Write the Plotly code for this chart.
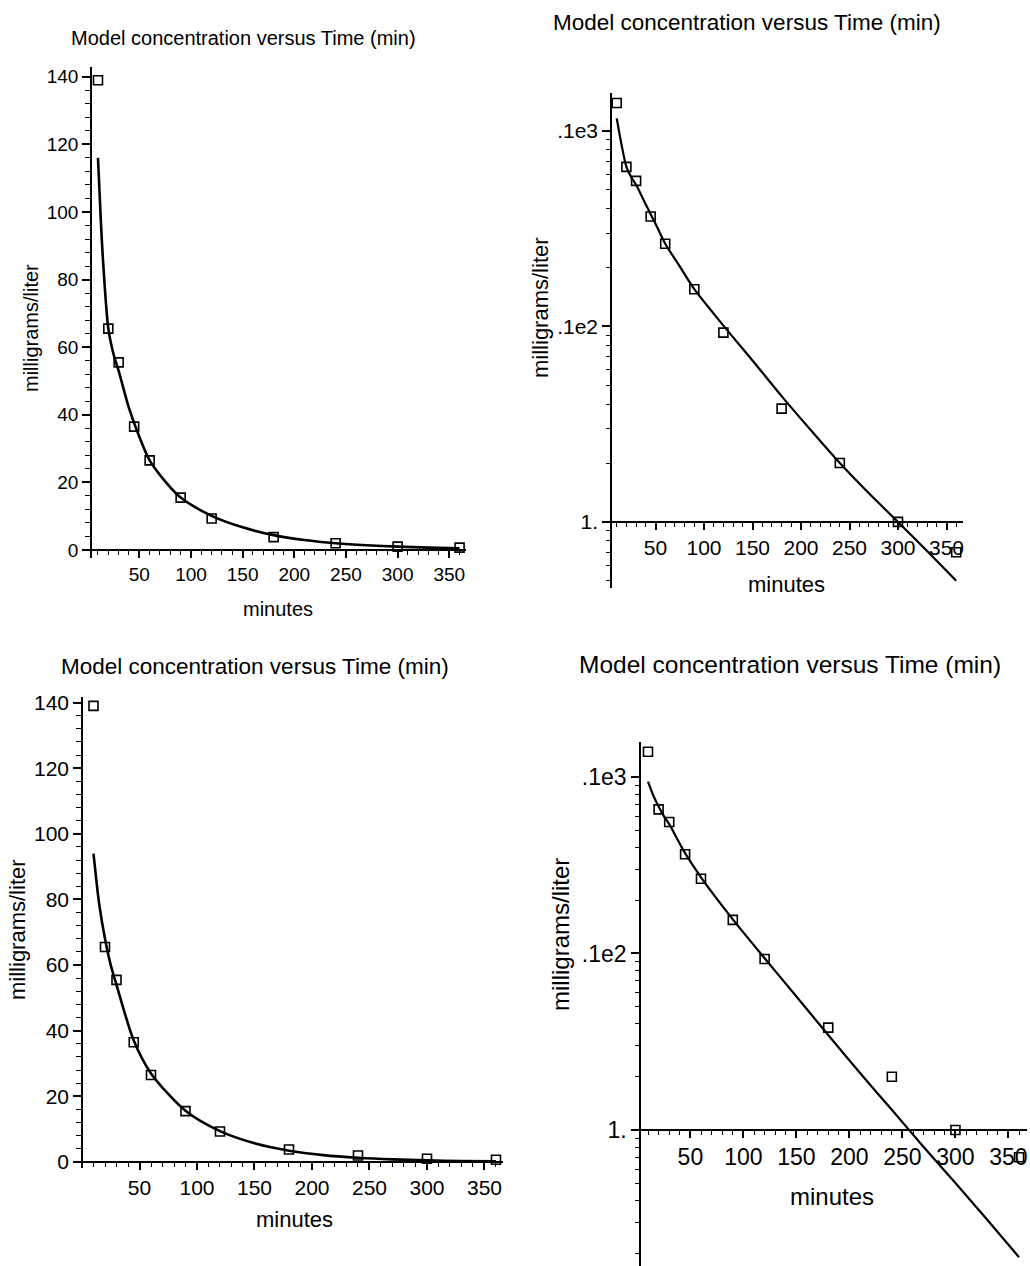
import plotly.graph_objects as go

W, H = 1030, 1266

# ---------------- data ----------------
time_min = [10, 20, 30, 45, 60, 90, 120, 180, 240, 300, 360]
conc_mg_l = [139, 65.5, 55.5, 36.5, 26.5, 15.5, 9.3, 3.8, 2.0, 1.0, 0.7]

# fitted model curve shown in the top row
model_top_t = [10, 12.5, 15, 20, 25, 30, 40, 50, 60, 75, 90, 120, 150, 180, 210, 240, 270, 300, 330, 360]
model_top_c = [116, 99, 85, 65.5, 58, 53, 42, 33.5, 26.5, 20.3, 15.5, 10.1, 6.7, 4.4, 2.95, 2.0, 1.4, 1.0, 0.71, 0.5]

# fitted model curve shown in the bottom row
model_bot_t = [10, 15, 20, 25, 30, 45, 60, 90, 120, 150, 180, 210, 240, 270, 300, 330, 360]
model_bot_c = [94, 78.5, 68, 60, 54, 37, 27, 15.6, 9.4, 5.7, 3.45, 2.1, 1.3, 0.8, 0.5, 0.31, 0.19]

title_text = "Model concentration versus Time (min)"
x_label = "minutes"
y_label = "milligrams/liter"
x_tick_step = 50
lin_y_tick_step = 20
log_y_tick_vals = [1, 10, 100]
log_y_tick_text = ["1.", ".1e2", ".1e3"]

FONT = "Liberation Sans, Arial, sans-serif"
TICKC = "black"


def fx(px):
    return px / W


def fy(py):
    return 1 - py / H


panels = [
    dict(model_t=model_top_t, model_c=model_top_c, log=False,
         xr=[4.2, 366.2], xpx=[92, 466], yr=[-2.37, 142.9], ypx=[67, 558], xaxis_py=550,
         tick=19, tsize=20, lsize=20, lw=2.6,
         title=(243.5, 38), xl=(278, 609), yl=(31, 328)),
    dict(model_t=model_top_t, model_c=model_top_c, log=True,
         xr=[5.15, 367], xpx=[612, 963], yr=[-0.338, 2.194], ypx=[93, 588], xaxis_py=522,
         tick=21, tsize=22.5, lsize=22, lw=2.2,
         title=(746.5, 23), xl=(786, 584), yl=(540, 308)),
    dict(model_t=model_bot_t, model_c=model_bot_c, log=False,
         xr=[0.87, 366.1], xpx=[83, 503], yr=[-1.83, 141.7], ypx=[697, 1168], xaxis_py=1162,
         tick=21, tsize=22.5, lsize=22, lw=2.6,
         title=(254.5, 666), xl=(294, 1219), yl=(17, 930)),
    dict(model_t=model_bot_t, model_c=model_bot_c, log=True,
         xr=[3.4, 367.5], xpx=[641, 1027], yr=[-0.771, 2.198], ypx=[742, 1266], xaxis_py=1130,
         tick=23, tsize=24.5, lsize=24, lw=2.2,
         title=(789.5, 664), xl=(832, 1196), yl=(561, 935)),
]

fig = go.Figure()
layout = dict(
    width=W, height=H, autosize=False,
    margin=dict(l=0, r=0, t=0, b=0),
    paper_bgcolor="white", plot_bgcolor="rgba(0,0,0,0)",
    showlegend=False, template="none",
    font=dict(family=FONT, color="black"),
)
annotations = []

log_minor = [m * d for d in (0.1, 1, 10, 100) for m in range(2, 10)]
extra_axis = 5

for i, p in enumerate(panels, start=1):
    sx = "" if i == 1 else str(i)
    xname, yname = "x" + sx, "y" + sx

    fig.add_trace(go.Scatter(
        x=p["model_t"], y=p["model_c"], mode="lines",
        line=dict(color="black", width=p["lw"], shape="spline", smoothing=0.8),
        xaxis=xname, yaxis=yname, hoverinfo="skip"))
    fig.add_trace(go.Scatter(
        x=time_min, y=conc_mg_l, mode="markers",
        marker=dict(symbol="square-open", size=9, color="black", line=dict(width=1.6, color="black")),
        xaxis=xname, yaxis=yname, cliponaxis=False))

    xaxis = dict(
        domain=[fx(p["xpx"][0]), fx(p["xpx"][1])],
        range=p["xr"], anchor="free", position=fy(p["xaxis_py"]),
        showline=True, linecolor="black", linewidth=1.6,
        showgrid=False, zeroline=False,
        tickmode="linear", tick0=0, dtick=x_tick_step,
        ticks="outside", ticklen=7, tickwidth=1.6, tickcolor=TICKC,
        tickfont=dict(family=FONT, size=p["tick"], color="black"),
        minor=dict(dtick=10, tick0=0, ticks="outside", ticklen=4, tickwidth=1.4,
                   tickcolor=TICKC, showgrid=False),
    )
    yaxis = dict(
        domain=[fy(p["ypx"][1]), fy(p["ypx"][0])],
        range=p["yr"], anchor=xname,
        showline=True, linecolor="black", linewidth=1.6,
        showgrid=False, zeroline=False,
        ticks="outside", ticklen=8, tickwidth=1.6, tickcolor=TICKC,
        tickfont=dict(family=FONT, size=p["tick"], color="black"),
    )
    if p["log"]:
        yaxis.update(type="log", tickmode="array", tickvals=log_y_tick_vals, ticktext=log_y_tick_text)
        ov = str(extra_axis)
        extra_axis += 1
        layout["yaxis" + ov] = dict(
            domain=[fy(p["ypx"][1]), fy(p["ypx"][0])], range=p["yr"], type="log",
            anchor=xname, overlaying=yname, side="left",
            showline=False, showgrid=False, zeroline=False,
            tickmode="array", tickvals=log_minor, showticklabels=False,
            ticks="outside", ticklen=5, tickwidth=1.4, tickcolor=TICKC,
        )
        fig.add_trace(go.Scatter(x=[None], y=[None], mode="markers", xaxis=xname,
                                 yaxis="y" + ov, hoverinfo="skip", showlegend=False))
    else:
        yaxis.update(tickmode="linear", tick0=0, dtick=lin_y_tick_step,
                     minor=dict(dtick=4, tick0=0, ticks="outside", ticklen=5, tickwidth=1.4,
                                tickcolor=TICKC, showgrid=False))
    layout["xaxis" + sx] = xaxis
    layout["yaxis" + sx] = yaxis

    annotations.append(dict(text=title_text, x=fx(p["title"][0]), y=fy(p["title"][1]),
                            xref="paper", yref="paper", showarrow=False,
                            xanchor="center", yanchor="middle",
                            font=dict(family=FONT, size=p["tsize"], color="black")))
    annotations.append(dict(text=x_label, x=fx(p["xl"][0]), y=fy(p["xl"][1]),
                            xref="paper", yref="paper", showarrow=False,
                            xanchor="center", yanchor="middle",
                            font=dict(family=FONT, size=p["lsize"], color="black")))
    annotations.append(dict(text=y_label, x=fx(p["yl"][0]), y=fy(p["yl"][1]),
                            xref="paper", yref="paper", showarrow=False, textangle=-90,
                            xanchor="center", yanchor="middle",
                            font=dict(family=FONT, size=p["lsize"], color="black")))

layout["annotations"] = annotations
fig.update_layout(**layout)
fig.write_html("out.html")
